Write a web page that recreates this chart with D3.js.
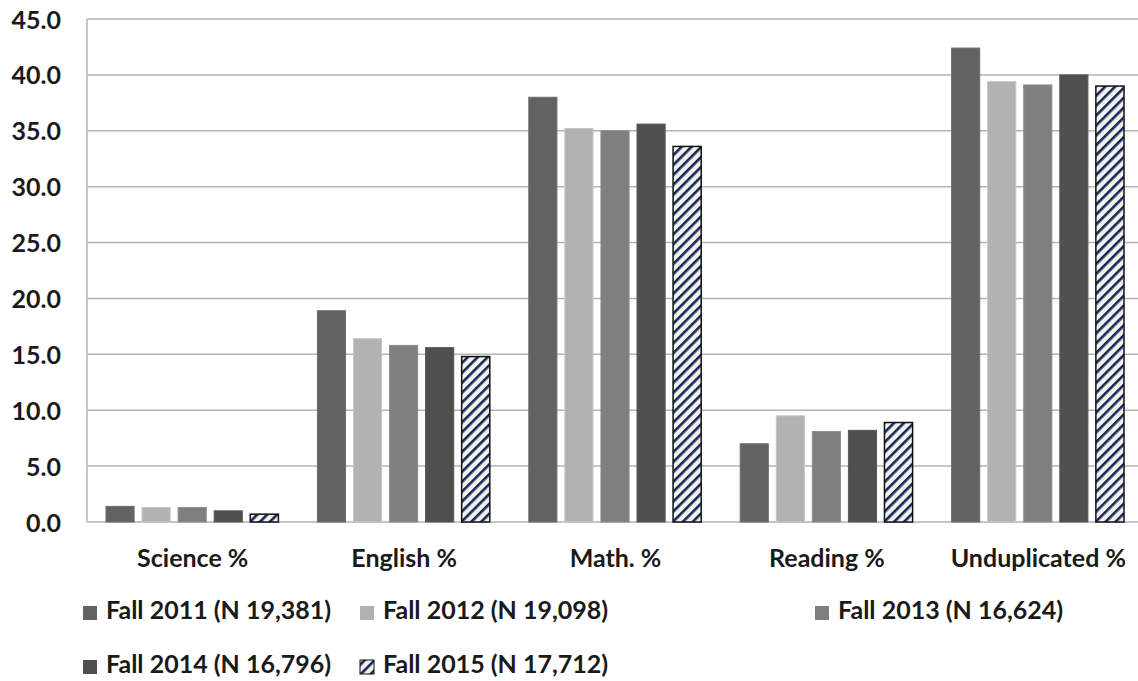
<!DOCTYPE html>
<html><head><meta charset="utf-8">
<script src="https://cdn.jsdelivr.net/npm/d3@7"></script>
<style>body{margin:0;background:#fff;}svg{display:block;font-family:Lato,sans-serif;}</style>
</head><body>
<script>
const categories = ["Science %", "English %", "Math. %", "Reading %", "Unduplicated %"];
const seriesNames = ["Fall 2011 (N 19,381)", "Fall 2012 (N 19,098)", "Fall 2013 (N 16,624)", "Fall 2014 (N 16,796)", "Fall 2015 (N 17,712)"];
const fall2011 = [1.4, 18.9, 38.0, 7.0, 42.4];
const fall2012 = [1.3, 16.4, 35.2, 9.5, 39.4];
const fall2013 = [1.3, 15.8, 35.0, 8.1, 39.1];
const fall2014 = [1.0, 15.6, 35.6, 8.2, 40.0];
const fall2015 = [0.7, 14.8, 33.6, 8.9, 39.0];
const yTicks = [0, 5, 10, 15, 20, 25, 30, 35, 40, 45];

const seriesValues = [fall2011, fall2012, fall2013, fall2014, fall2015];
const colors = ["#626262", "#b2b2b2", "#7f7f7f", "#4f4f4f", "url(#hatch)"];
const FONT = "Lato, sans-serif";
const FS = 25;

const W = 1138, H = 681;
const svg = d3.select("body").append("svg").attr("width", W).attr("height", H);
const defs = svg.append("defs");
const pat = defs.append("pattern").attr("id", "hatch").attr("patternUnits", "userSpaceOnUse")
  .attr("width", 7).attr("height", 7).attr("patternTransform", "rotate(45)");
pat.append("rect").attr("width", 7).attr("height", 7).attr("fill", "#f3f2e8");
pat.append("rect").attr("x", 0).attr("width", 2.6).attr("height", 7).attr("fill", "#14245e");

const mLeft = 87, mRight = 1144, mTop = 19, mBottom = 522;
const x0 = d3.scaleBand().domain(categories).range([mLeft, mRight]).paddingInner(0).paddingOuter(0);
const x1 = d3.scaleBand().domain(d3.range(5)).range([19, x0.bandwidth() - 20]).paddingInner(0.22).paddingOuter(0);
const y = d3.scaleLinear().domain([0, 45]).range([mBottom, mTop]);

// gridlines
svg.append("g").selectAll("line").data(yTicks).join("line")
  .attr("x1", mLeft).attr("x2", mRight)
  .attr("y1", d => y(d)).attr("y2", d => y(d))
  .attr("stroke", "#b3b3b3").attr("stroke-width", 1.5);
svg.append("line").attr("x1", mLeft).attr("x2", mLeft).attr("y1", mTop).attr("y2", mBottom)
  .attr("stroke", "#b3b3b3").attr("stroke-width", 1.5);

// y axis labels
const yAxis = d3.axisLeft(y).tickValues(yTicks).tickFormat(d3.format(".1f")).tickSize(0).tickPadding(0);
const yg = svg.append("g").attr("transform", `translate(61,0)`).call(yAxis);
yg.select(".domain").remove();
yg.selectAll("text").attr("font-size", FS).attr("font-weight", 700).attr("fill", "#1a1a1a")
  .attr("font-family", FONT).attr("dy", "0.36em");

// bars
categories.forEach((c, ci) => {
  const g = svg.append("g").attr("transform", `translate(${x0(c)},0)`);
  seriesValues.forEach((vals, si) => {
    const v = vals[ci];
    g.append("rect")
      .attr("x", x1(si)).attr("width", x1.bandwidth())
      .attr("y", y(v)).attr("height", y(0) - y(v))
      .attr("fill", colors[si])
      .attr("stroke", si === 4 ? "#111" : d3.color(colors[si]).brighter(0.3))
      .attr("stroke-width", si === 4 ? 1.5 : 1);
  });
});

// x axis labels
const xAxis = d3.axisBottom(x0).tickSize(0).tickPadding(0);
const xg = svg.append("g").attr("transform", `translate(0,567)`).call(xAxis);
xg.select(".domain").remove();
xg.selectAll("text").attr("font-size", FS).attr("font-weight", 700).attr("fill", "#1a1a1a")
  .attr("font-family", FONT).attr("dy", "0");

// legend
const legPos = [[83, 619], [360, 619], [815, 619], [83, 673], [360, 673]];
seriesNames.forEach((name, i) => {
  const [lx, ly] = legPos[i];
  const g = svg.append("g").attr("transform", `translate(${lx},${ly})`);
  g.append("rect").attr("x", 0).attr("y", -13).attr("width", 14).attr("height", 14)
    .attr("fill", colors[i]).attr("stroke", i === 4 ? "#111" : "none").attr("stroke-width", 1);
  g.append("text").attr("x", 23).attr("y", 0)
    .attr("font-size", FS).attr("font-weight", 700).attr("fill", "#1a1a1a")
    .attr("font-family", FONT).text(name);
});
</script>
</body></html>
